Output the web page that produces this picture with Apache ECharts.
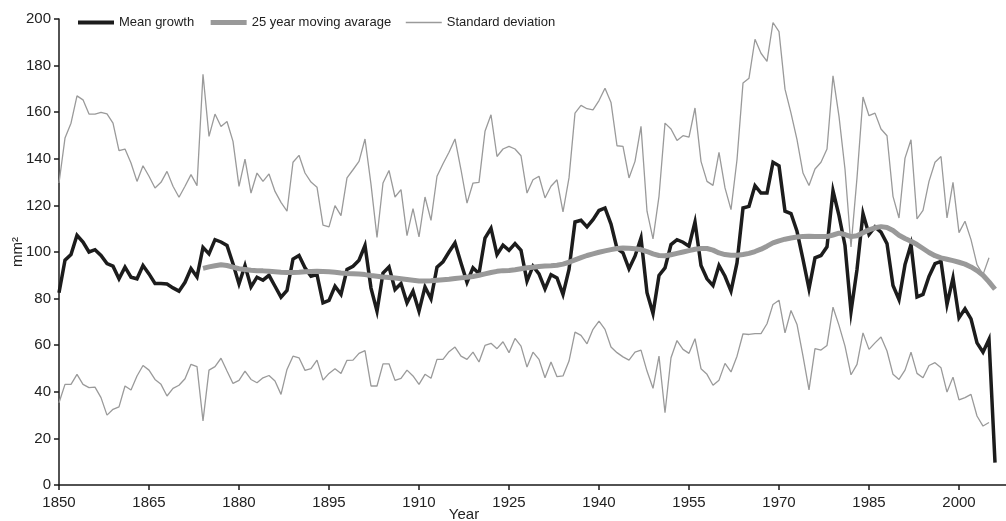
<!DOCTYPE html>
<html><head><meta charset="utf-8">
<script src="https://cdn.jsdelivr.net/npm/echarts@6/dist/echarts.min.js"></script>
<style>html,body{margin:0;padding:0;background:#fff}#c{width:1006px;height:521px}</style>
</head><body><div id="c"></div>
<script>
const FIRST_YEAR = 1850;
const MA_FIRST_YEAR = 1874;
const meanGrowth = [
82.5,96.5,98.9,107.2,104.3,100,101,98.5,95,93.9,
88.5,93.5,89.2,88.5,94.2,90.6,86.5,86.5,86.3,84.6,
83.2,87,92.9,89.3,102,99.2,105.3,104.3,102.8,95,
86.3,94.2,85,89.2,87.9,90,85.3,80.6,83.5,97,
98.5,93.2,89.6,90.3,78.2,79.2,85.3,81.8,92.5,93.9,
96.5,102.8,84.5,74.6,91,93.6,83.9,86.5,78.2,83.2,
74.6,85,79.9,93.5,95.8,100,103.9,95.3,87,93.2,
90.7,106,110.2,98.9,102.9,100.7,103.6,100.7,87.5,93.9,
90.6,84.2,90.3,88.9,81.8,92.5,112.9,113.6,110.8,113.9,
117.8,118.9,112,101.5,99.6,92.8,98.2,106,82.5,73.6,
89.9,93.2,103.2,105.3,104.2,102.5,112.9,94.2,88.5,85.6,
94.2,89.6,83.2,95.3,118.9,119.6,128.5,125.3,125.3,138.5,
137,117.5,116.5,108.9,96.8,84.2,97.5,98.5,102.2,126.3,
115.6,102.8,74.4,92.5,116.5,107.5,110.8,108.5,103.6,85.6,
79.6,94.6,103.2,80.7,81.8,89.5,95,96,77.5,88.9,
71.8,75.6,71.3,61,57,62.5,9.6];
const movingAvg = [
93.0,93.6,94.1,94.5,94.2,93.5,
92.8,92.5,92.2,92.0,91.9,91.7,91.5,91.3,91.2,91.2,
91.3,91.5,91.6,91.7,91.6,91.5,91.3,91.0,90.8,90.7,
90.6,90.3,89.9,89.6,89.3,89.1,88.8,88.5,88.2,87.9,
87.6,87.6,87.7,87.9,88.1,88.3,88.6,88.9,89.2,89.5,
90.0,90.6,91.2,91.7,92.0,92.1,92.4,92.8,93.2,93.5,
93.8,94.0,94.1,94.3,94.8,95.6,96.6,97.6,98.5,99.2,
99.9,100.5,101.0,101.5,101.7,101.6,101.4,101.0,100.2,99.2,
98.5,98.4,98.8,99.4,100.0,100.6,101.2,101.5,101.5,100.8,
99.6,98.9,98.6,98.6,98.9,99.4,100.2,101.2,102.5,103.9,
104.8,105.5,106.0,106.4,106.7,106.8,106.7,106.6,106.6,107.3,
108.1,107.5,106.6,107.0,108.3,109.5,110.4,110.9,110.5,109.2,
107.2,105.8,104.6,103.2,101.5,99.8,98.4,97.5,96.9,96.3,
95.6,94.8,93.6,92.0,90.0,87.2,84.0];
const sdUpper = [
129.6,148.9,155.3,167,165.3,159.2,159.2,159.9,159.3,155.3,
143.5,144.2,138.2,130.3,137,132.5,127.5,129.9,134.6,128.2,
123.5,128.2,133.2,128.5,176.3,149.6,159.2,153.9,156,147.5,
128.2,139.9,125.3,133.9,130.3,133.5,126,121.3,117.5,138.5,
141.5,133.9,130,127.8,111.5,110.8,119.9,115.6,131.8,135.3,
138.9,148.5,129,106.3,129.6,135,123.6,126.8,107,118.6,
106.5,123.6,113.6,132.5,137.9,142.8,148.5,135.3,121,129.6,
129.9,151.8,158.9,141,144.2,145.3,144.2,141.3,125.3,131,
132.5,123.2,128.2,131,117.2,131.8,159.6,162.9,161.5,161,
165,170.3,164.2,145.6,145.3,131.8,138.9,153.9,117.5,105.6,
123.9,155.3,152.8,147.9,149.9,149.3,161.8,138.9,130.3,128.6,
142.8,127.5,118.2,139.6,172.5,174.6,191.3,185.3,181.8,198.5,
194.6,169.9,159.6,148.2,133.9,128.5,135.6,138.5,144.2,175.6,
158.2,135.5,102.2,131.8,166.5,158.5,159.6,152.8,149.9,123.9,
114.6,140.3,148.2,114.2,117.9,130.3,138.5,141,114.6,129.9,
108.3,113.2,105.3,94.6,90.3,97.5];
const sdLower = [
35.3,43.2,43.2,47.5,43.2,41.8,42,37.5,30,32.5,
33.5,42.5,40.8,46.8,51.3,49.3,45.3,43.2,38.2,41.5,
42.8,45.6,51.8,50.8,27.5,49.3,50.8,54.4,48.9,43.6,
44.9,48.9,45.3,43.9,46,47,44.6,38.9,49.6,55.3,
54.6,49.2,49.9,53.6,45,47.9,49.9,47.9,53.5,53.6,
56.5,57.7,42.5,42.5,52,52,44.9,45.8,49.3,46.8,
43.2,47.5,45.8,53.9,53.9,57.2,59.2,55.3,53.9,57,
52.8,59.9,60.8,58.5,61.5,56.8,62.9,59.6,50.6,57,
53.9,46,52.8,46.5,46.8,53.2,65.6,64.2,60.6,66.8,
70.3,66.8,59.2,56.8,55,53.6,57,57.9,48.9,41.5,
55.3,31,54.6,62,58.2,56.5,62.8,49.9,47.5,42.8,
45,52.2,48.5,55.3,64.9,64.6,65,65,69.2,77.5,
79.3,65.3,74.9,68.9,55.3,40.8,58.5,57.9,59.9,76.3,
68.5,59.6,47.3,51.8,65.3,58.2,61,63.5,57.5,47.5,
45.3,49.3,57,47.9,46,51.3,52.5,50.3,39.9,46.3,
36.5,37.5,38.9,29.6,25.3,26.8];
const xTickYears = [1850,1865,1880,1895,1910,1925,1940,1955,1970,1985,2000];
const seriesNames = ['Mean growth','25 year moving avarage','Standard deviation'];

function toPairs(start, arr){ return arr.map((v,i)=>[start+i, v]); }

const txt = '#222';
const font = 'Liberation Sans, Arial, sans-serif';
const cBlack = '#1c1c1c', cMA = '#999999', cSD = '#9a9a9a';
const chart = echarts.init(document.getElementById('c'), null, {renderer:'canvas'});
chart.setOption({
  animation:false,
  backgroundColor:'#fff',
  grid:{left:59, right:-1, top:19, bottom:36, outerBoundsMode:'none', containLabel:false},
  legend:{
    data:[
      {name:seriesNames[0], lineStyle:{width:4, color:cBlack}},
      {name:seriesNames[1], lineStyle:{width:5, color:cMA}},
      {name:seriesNames[2], lineStyle:{width:1.3, color:cSD}}
    ],
    left:71, top:11, itemWidth:36, itemHeight:12, itemGap:14,
    itemStyle:{opacity:0},
    textStyle:{fontSize:13, color:txt, fontFamily:font}
  },
  xAxis:{
    type:'value', min:1850, max:2008,
    axisLine:{lineStyle:{color:'#1a1a1a', width:1.5}},
    axisTick:{customValues:xTickYears, length:5, lineStyle:{color:'#1a1a1a', width:1.5}},
    axisLabel:{customValues:xTickYears, color:txt, fontSize:15, fontFamily:font, margin:10,
      formatter:(v)=>String(v)},
    splitLine:{show:false}
  },
  yAxis:{
    type:'value', min:0, max:200, interval:20,
    name:'mm²', nameLocation:'middle', nameGap:34, nameRotate:90, nameMoveOverlap:false,
    nameTextStyle:{fontSize:15, color:txt, fontFamily:font},
    axisLine:{show:true, lineStyle:{color:'#1a1a1a', width:1.5}},
    axisTick:{show:true, length:5, lineStyle:{color:'#1a1a1a', width:1.5}},
    axisLabel:{color:txt, fontSize:15, fontFamily:font, margin:8},
    splitLine:{show:false}
  },
  graphic:[{type:'text', x:464, y:507, style:{text:'Year', textAlign:'center', fontSize:15, fill:txt, fontFamily:font}}],
  series:[
    {name:seriesNames[2], type:'line', data:toPairs(FIRST_YEAR, sdUpper), symbol:'none',
      lineStyle:{color:cSD, width:1.3}, itemStyle:{color:cSD}, z:1},
    {name:seriesNames[2], type:'line', data:toPairs(FIRST_YEAR, sdLower), symbol:'none',
      lineStyle:{color:cSD, width:1.3}, itemStyle:{color:cSD}, z:1},
    {name:seriesNames[0], type:'line', data:toPairs(FIRST_YEAR, meanGrowth), symbol:'none',
      lineStyle:{color:cBlack, width:3.5, join:'miter'}, itemStyle:{color:cBlack}, z:2},
    {name:seriesNames[1], type:'line', data:toPairs(MA_FIRST_YEAR, movingAvg), symbol:'none',
      lineStyle:{color:cMA, width:5}, itemStyle:{color:cMA}, z:3}
  ]
});
</script></body></html>
